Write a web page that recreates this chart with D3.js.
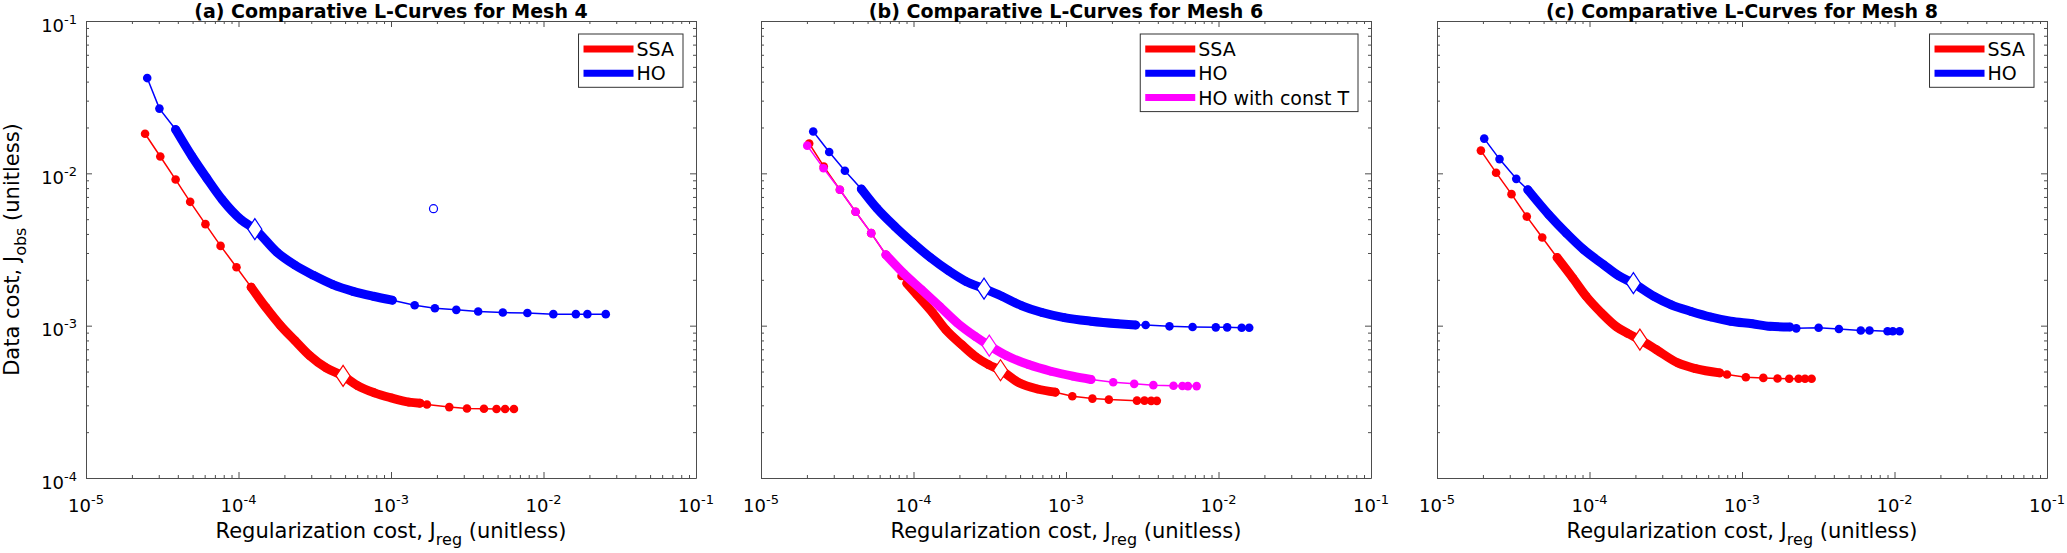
<!DOCTYPE html>
<html>
<head>
<meta charset="utf-8">
<script src="https://cdn.jsdelivr.net/npm/d3@7"></script>
<style>
  body { margin: 0; background: #fff; }
  text { font-family: 'DejaVu Sans', sans-serif; fill: #000; }
</style>
</head>
<body>
<svg id="chart" width="2067" height="553"></svg>
<script>
// ---- chart text ----
const titles = ['(a) Comparative L-Curves for Mesh 4', '(b) Comparative L-Curves for Mesh 6', '(c) Comparative L-Curves for Mesh 8'];
const xTickExps = [-5, -4, -3, -2, -1];
const yTickExps = [-4, -3, -2, -1];

// ---- Mesh 4 ----
const m4SsaJreg = [2.44e-5, 3.07e-5, 3.87e-5, 4.82e-5, 6.07e-5, 7.63e-5, 9.7e-5, 1.21e-4, 1.51e-4, 1.89e-4, 2.34e-4, 2.93e-4, 3.76e-4, 4.85e-4, 6.03e-4, 7.79e-4, 1.0e-3, 1.31e-3, 1.55e-3, 1.72e-3, 2.41e-3, 3.15e-3, 4.07e-3, 4.92e-3, 5.6e-3, 6.4e-3];
const m4SsaJobs = [1.82e-2, 1.29e-2, 9.1e-3, 6.5e-3, 4.64e-3, 3.34e-3, 2.42e-3, 1.79e-3, 1.32e-3, 1.0e-3, 8.0e-4, 6.36e-4, 5.28e-4, 4.68e-4, 4.04e-4, 3.62e-4, 3.36e-4, 3.15e-4, 3.1e-4, 3.04e-4, 2.92e-4, 2.86e-4, 2.85e-4, 2.84e-4, 2.84e-4, 2.84e-4];
const m4SsaDense = [7, 18];
const m4SsaCorner = 13;

const m4HoJreg = [2.52e-5, 3.03e-5, 3.87e-5, 4.96e-5, 6.19e-5, 7.84e-5, 1.04e-4, 1.28e-4, 1.79e-4, 2.34e-4, 3.1e-4, 4.16e-4, 5.64e-4, 7.64e-4, 1.02e-3, 1.43e-3, 1.94e-3, 2.68e-3, 3.73e-3, 5.41e-3, 7.84e-3, 1.16e-2, 1.63e-2, 1.94e-2, 2.56e-2];
const m4HoJobs = [4.22e-2, 2.66e-2, 1.94e-2, 1.29e-2, 9.3e-3, 6.7e-3, 4.96e-3, 4.3e-3, 3.03e-3, 2.5e-3, 2.14e-3, 1.86e-3, 1.68e-3, 1.56e-3, 1.47e-3, 1.36e-3, 1.3e-3, 1.27e-3, 1.24e-3, 1.22e-3, 1.21e-3, 1.19e-3, 1.19e-3, 1.19e-3, 1.19e-3];
const m4HoDense = [2, 14];
const m4HoCorner = 7;
const m4HoOutlier = [1.9e-3, 5.86e-3];

// ---- Mesh 6 ----
const m6SsaJreg = [2.07e-5, 2.58e-5, 3.29e-5, 4.17e-5, 5.28e-5, 6.59e-5, 8.34e-5, 9.04e-5, 1.05e-4, 1.34e-4, 1.63e-4, 2.07e-4, 2.53e-4, 3.1e-4, 3.72e-4, 4.96e-4, 6.5e-4, 8.5e-4, 1.1e-3, 1.49e-3, 1.91e-3, 2.92e-3, 3.27e-3, 3.62e-3, 3.94e-3];
const m6SsaJobs = [1.57e-2, 1.11e-2, 7.8e-3, 5.6e-3, 4.05e-3, 2.92e-3, 2.12e-3, 1.9e-3, 1.6e-3, 1.21e-3, 9.4e-4, 7.5e-4, 6.3e-4, 5.55e-4, 5.1e-4, 4.2e-4, 3.84e-4, 3.66e-4, 3.44e-4, 3.32e-4, 3.27e-4, 3.22e-4, 3.22e-4, 3.21e-4, 3.21e-4];
const m6SsaDense = [7, 17];
const m6SsaCorner = 14;

const m6HoJreg = [2.2e-5, 2.8e-5, 3.55e-5, 4.55e-5, 5.75e-5, 7.54e-5, 9.86e-5, 1.29e-4, 1.69e-4, 2.21e-4, 2.9e-4, 3.8e-4, 5.14e-4, 6.96e-4, 9.73e-4, 1.46e-3, 2.18e-3, 2.86e-3, 3.33e-3, 4.77e-3, 6.76e-3, 9.6e-3, 1.14e-2, 1.42e-2, 1.59e-2];
const m6HoJobs = [1.88e-2, 1.38e-2, 1.04e-2, 7.9e-3, 5.9e-3, 4.48e-3, 3.51e-3, 2.8e-3, 2.3e-3, 1.95e-3, 1.75e-3, 1.56e-3, 1.35e-3, 1.22e-3, 1.13e-3, 1.07e-3, 1.03e-3, 1.01e-3, 1.01e-3, 9.9e-4, 9.8e-4, 9.75e-4, 9.75e-4, 9.7e-4, 9.7e-4];
const m6HoDense = [3, 17];
const m6HoCorner = 10;

const m6ConstTJreg = [2.01e-5, 2.57e-5, 3.29e-5, 4.17e-5, 5.28e-5, 6.59e-5, 8.63e-5, 1.13e-4, 1.48e-4, 1.94e-4, 2.54e-4, 3.14e-4, 4.06e-4, 5.68e-4, 7.96e-4, 1.11e-3, 1.46e-3, 2.04e-3, 2.8e-3, 3.74e-3, 5.07e-3, 5.8e-3, 6.3e-3, 7.19e-3];
const m6ConstTJobs = [1.52e-2, 1.08e-2, 7.8e-3, 5.6e-3, 4.05e-3, 2.92e-3, 2.2e-3, 1.72e-3, 1.34e-3, 1.04e-3, 8.5e-4, 7.39e-4, 6.36e-4, 5.55e-4, 5.02e-4, 4.66e-4, 4.43e-4, 4.25e-4, 4.15e-4, 4.07e-4, 4.03e-4, 4.02e-4, 4.01e-4, 4.01e-4];
const m6ConstTDense = [5, 16];
const m6ConstTCorner = 11;

// ---- Mesh 8 ----
const m8SsaJreg = [1.94e-5, 2.44e-5, 3.08e-5, 3.88e-5, 4.9e-5, 6.13e-5, 7.78e-5, 9.5e-5, 1.2e-4, 1.51e-4, 1.78e-4, 2.14e-4, 2.74e-4, 3.8e-4, 4.96e-4, 7.13e-4, 7.97e-4, 1.06e-3, 1.38e-3, 1.71e-3, 2.04e-3, 2.35e-3, 2.59e-3, 2.86e-3];
const m8SsaJobs = [1.41e-2, 1.01e-2, 7.3e-3, 5.2e-3, 3.79e-3, 2.8e-3, 2.05e-3, 1.56e-3, 1.21e-3, 9.8e-4, 8.9e-4, 8.1e-4, 6.96e-4, 5.69e-4, 5.22e-4, 4.9e-4, 4.78e-4, 4.59e-4, 4.54e-4, 4.5e-4, 4.48e-4, 4.48e-4, 4.48e-4, 4.48e-4];
const m8SsaDense = [5, 15];
const m8SsaCorner = 11;

const m8HoJreg = [2.04e-5, 2.57e-5, 3.31e-5, 3.94e-5, 5.41e-5, 7.05e-5, 9.18e-5, 1.24e-4, 1.56e-4, 1.94e-4, 2.64e-4, 3.44e-4, 4.64e-4, 6.25e-4, 8.42e-4, 1.17e-3, 1.53e-3, 2.06e-3, 2.27e-3, 3.18e-3, 4.32e-3, 6.01e-3, 6.86e-3, 9.0e-3, 9.75e-3, 1.08e-2];
const m8HoJobs = [1.69e-2, 1.24e-2, 9.2e-3, 7.8e-3, 5.35e-3, 4.05e-3, 3.15e-3, 2.51e-3, 2.12e-3, 1.9e-3, 1.56e-3, 1.37e-3, 1.24e-3, 1.14e-3, 1.07e-3, 1.03e-3, 9.9e-4, 9.8e-4, 9.6e-4, 9.7e-4, 9.5e-4, 9.3e-4, 9.3e-4, 9.2e-4, 9.2e-4, 9.2e-4];
const m8HoDense = [3, 17];
const m8HoCorner = 9;

// ---- table for drawing ----
const RED = '#ff0000', BLUE = '#0000ff', MAG = '#ff00ff';
function series(name, color, jreg, jobs, dense, corner) {
  return {name, color, pts: jreg.map((v, i) => [v, jobs[i]]), dense, corner};
}
const panels = [
  {title: titles[0], series: [
    series('SSA', RED, m4SsaJreg, m4SsaJobs, m4SsaDense, m4SsaCorner),
    series('HO', BLUE, m4HoJreg, m4HoJobs, m4HoDense, m4HoCorner)], outlier: m4HoOutlier},
  {title: titles[1], series: [
    series('SSA', RED, m6SsaJreg, m6SsaJobs, m6SsaDense, m6SsaCorner),
    series('HO', BLUE, m6HoJreg, m6HoJobs, m6HoDense, m6HoCorner),
    series('HO with const T', MAG, m6ConstTJreg, m6ConstTJobs, m6ConstTDense, m6ConstTCorner)]},
  {title: titles[2], series: [
    series('SSA', RED, m8SsaJreg, m8SsaJobs, m8SsaDense, m8SsaCorner),
    series('HO', BLUE, m8HoJreg, m8HoJobs, m8HoDense, m8HoCorner)]}
];

// ---- layout ----
const panelLeft = [86, 761, 1437];
const plotW = 610, plotTop = 21, plotBottom = 478;
const AX = '#4d4d4d';
const svg = d3.select('#chart');

function powLabel(sel, exp) {
  sel.append('tspan').text('10');
  sel.append('tspan').attr('font-size', 13).attr('dy', -8).text(exp);
}

panels.forEach((p, pi) => {
  const x0 = panelLeft[pi];
  const x = d3.scaleLog().domain([1e-5, 1e-1]).range([x0, x0 + plotW]);
  const y = d3.scaleLog().domain([1e-4, 1e-1]).range([plotBottom, plotTop]);
  const g = svg.append('g');

  const isMajor = v => Math.abs(Math.log10(v) - Math.round(Math.log10(v))) < 1e-9;
  const xMaj = xTickExps.map(e => Math.pow(10, e));
  const yMaj = yTickExps.map(e => Math.pow(10, e));
  const xMin = x.ticks().filter(v => !isMajor(v));
  const yMin = y.ticks().filter(v => !isMajor(v));

  // axes box with inward ticks
  const axes = [
    [d3.axisBottom(x), xMaj, xMin, `translate(0,${plotBottom})`],
    [d3.axisTop(x), xMaj, xMin, `translate(0,${plotTop})`],
    [d3.axisLeft(y), yMaj, yMin, `translate(${x0},0)`],
    [d3.axisRight(y), yMaj, yMin, `translate(${x0 + plotW},0)`]
  ];
  axes.forEach(([ax, maj, mnr, tr]) => {
    const a1 = g.append('g').attr('transform', tr)
      .call(ax.tickValues(maj).tickSize(-6).tickSizeOuter(0).tickFormat(''));
    a1.select('.domain').attr('stroke', AX);
    a1.selectAll('line').attr('stroke', AX);
    const a2 = g.append('g').attr('transform', tr)
      .call(ax.tickValues(mnr).tickSize(-3).tickSizeOuter(0).tickFormat(''));
    a2.select('.domain').remove();
    a2.selectAll('line').attr('stroke', AX);
  });

  // tick labels
  xTickExps.forEach(e => {
    g.append('text').attr('x', x(Math.pow(10, e))).attr('y', plotBottom + 34)
      .attr('text-anchor', 'middle').attr('font-size', 18)
      .call(powLabel, String(e));
  });
  if (pi === 0) {
    yTickExps.forEach(e => {
      g.append('text').attr('x', x0 - 9).attr('y', y(Math.pow(10, e)) + 10.5)
        .attr('text-anchor', 'end').attr('font-size', 18)
        .call(powLabel, String(e));
    });
    const yl = g.append('text').attr('transform', `translate(19,${(plotTop + plotBottom) / 2}) rotate(-90)`)
      .attr('text-anchor', 'middle').attr('font-size', 21);
    yl.append('tspan').text('Data cost, J');
    yl.append('tspan').attr('font-size', 16).attr('dy', 7).text('obs');
    yl.append('tspan').attr('dy', -7).text(' (unitless)');
  }

  // x label
  const xl = g.append('text').attr('x', x0 + plotW / 2).attr('y', 538)
    .attr('text-anchor', 'middle').attr('font-size', 21);
  xl.append('tspan').text('Regularization cost, J');
  xl.append('tspan').attr('font-size', 16).attr('dy', 7).text('reg');
  xl.append('tspan').attr('dy', -7).text(' (unitless)');

  // title
  g.append('text').attr('x', x0 + plotW / 2).attr('y', 18)
    .attr('text-anchor', 'middle').attr('font-size', 19).attr('font-weight', 'bold')
    .text(p.title);

  // curves
  const thin = d3.line().x(d => x(d[0])).y(d => y(d[1]));
  const band = d3.line().curve(d3.curveMonotoneX).x(d => x(d[0])).y(d => y(d[1]));
  p.series.forEach(s => {
    g.append('path').attr('d', thin(s.pts)).attr('fill', 'none')
      .attr('stroke', s.color).attr('stroke-width', 1.5);
    g.append('path').attr('d', band(s.pts.slice(s.dense[0], s.dense[1] + 1))).attr('fill', 'none')
      .attr('stroke', s.color).attr('stroke-width', 9)
      .attr('stroke-linecap', 'round').attr('stroke-linejoin', 'round');
    g.selectAll(null).data(s.pts).enter().append('circle')
      .attr('cx', d => x(d[0])).attr('cy', d => y(d[1])).attr('r', 4.3)
      .attr('fill', s.color);
  });
  if (p.outlier) {
    g.append('circle').attr('cx', x(p.outlier[0])).attr('cy', y(p.outlier[1])).attr('r', 4)
      .attr('fill', 'none').attr('stroke', BLUE).attr('stroke-width', 1.2);
  }
  // L-curve corners
  p.series.forEach(s => {
    const c = s.pts[s.corner];
    g.append('path').attr('d', 'M0,-10.5L7,0L0,10.5L-7,0Z')
      .attr('transform', `translate(${x(c[0])},${y(c[1])})`)
      .attr('fill', '#fff').attr('stroke', s.color).attr('stroke-width', 1.2);
  });

  // legend
  const lg = g.append('g');
  const box = lg.append('rect').attr('fill', '#fff').attr('stroke', '#333').attr('stroke-width', 1);
  let maxW = 0;
  const rows = p.series.map((s, i) => {
    const cy = 34 + 15 + 24.3 * i;
    const line = lg.append('line').attr('y1', cy).attr('y2', cy)
      .attr('stroke', s.color).attr('stroke-width', 7);
    const t = lg.append('text').attr('y', cy + 7).attr('font-size', 19).text(s.name);
    maxW = Math.max(maxW, t.node().getComputedTextLength());
    return {line, t};
  });
  const boxW = 5 + 50 + 3 + maxW + 9;
  const bx = x0 + plotW - 13 - boxW;
  box.attr('x', bx).attr('y', 34).attr('width', boxW).attr('height', 15 + 24.3 * (p.series.length - 1) + 14);
  rows.forEach(r => {
    r.line.attr('x1', bx + 5).attr('x2', bx + 55);
    r.t.attr('x', bx + 58);
  });
});
</script>
</body>
</html>
